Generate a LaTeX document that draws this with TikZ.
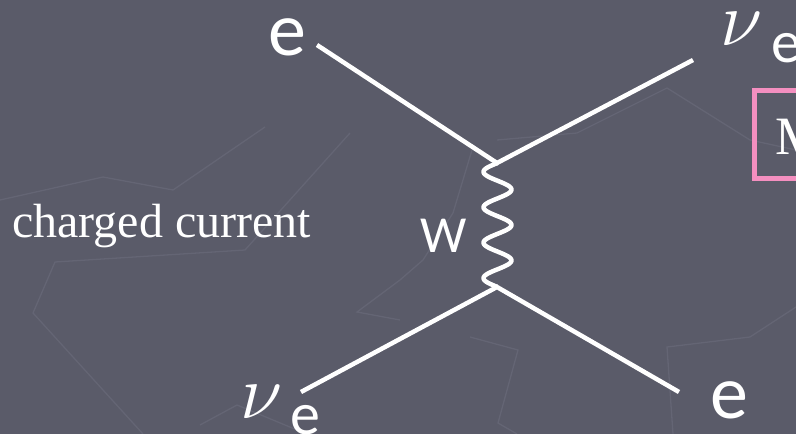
\RequirePackage{fix-cm}
\documentclass[tikz,border=0pt]{standalone}
\usepackage{fontspec}
\setmainfont{Liberation Serif}
\newfontfamily\lblfont{Carlito}
\definecolor{bgcol}{HTML}{5A5B69}
\definecolor{texcol}{HTML}{646574}
\definecolor{pinkcol}{HTML}{F48FC0}
\begin{document}
\begin{tikzpicture}[x=1pt,y=-1pt,
  fermion/.style={draw=white,line width=4.5pt},
  boson/.style={draw=white,line width=4.5pt,line join=round},
  texline/.style={draw=texcol,line width=1.3pt},
  lbl/.style={text=white,inner sep=0pt,anchor=base,text height=38pt,text depth=0pt,font=\lblfont\fontsize{76}{76}\selectfont},
  sublbl/.style={text=white,inner sep=0pt,anchor=base,text height=29pt,text depth=0pt,font=\lblfont\fontsize{60}{60}\selectfont},
  nulbl/.style={text=white,inner sep=0pt,anchor=base,text height=37pt,text depth=0pt,font=\fontsize{77}{77}\selectfont},
  wlbl/.style={text=white,inner sep=0pt,anchor=base,text height=35pt,text depth=0pt,font=\lblfont\fontsize{52}{52}\selectfont},
  serlbl/.style={text=white,inner sep=0pt,anchor=base west,font=\fontsize{48}{48}\selectfont}]
\useasboundingbox (0,0) rectangle (796,434);
\clip (0,0) rectangle (796,434);
\fill[bgcol] (0,0) rectangle (796,434);
% faint background texture
\draw[texline] (0,200) -- (103,177) -- (173,190) -- (265,127);
\draw[texline] (350,133) -- (245,250) -- (55,262) -- (33,313) -- (143,434);
\draw[texline] (400,280) -- (357,312) -- (400,320);
\draw[texline] (200,425) -- (237,405) -- (297,430);
\draw[texline] (472,150) -- (453,213) -- (423,260) -- (400,280);
\draw[texline] (497,140) -- (577,133) -- (667,88) -- (750,140) -- (796,150);
\draw[texline] (470,337) -- (518,350) -- (498,423) -- (517,434);
\draw[texline] (673,434) -- (667,347) -- (750,337) -- (796,307);
% vertices
\coordinate (vt) at (497,163);
\coordinate (vb) at (497,287);
\coordinate (eTL) at (317,45);
\coordinate (nuTR) at (693,60);
\coordinate (nuBL) at (301,392);
\coordinate (eBR) at (679,392);
\draw[fermion] (eTL) -- (vt) -- (nuTR);
\draw[fermion] (nuBL) -- (vb) -- (eBR);
\draw[boson] plot[smooth,samples=120,domain=0:1] ({497.5-14*sin(7*180*\x)},{163+124*\x});
% labels
\node[lbl] (le1) at (287.5,55) {e};
\node[lbl] (le2) at (729,418) {e};
\node[nulbl] (nu1) at (741.5,45) {$\nu$};
\node[sublbl] (ne1) at (786,62) {e};
\node[nulbl] (nu2) at (261.5,418) {$\nu$};
\node[sublbl] (ne2) at (305,434) {e};
\node[wlbl] (W) at (443.5,252) {W};
\node[serlbl] (cc) at (12,237) {charged current};
% pink box
\draw[pinkcol,line width=5pt] (754.5,90) rectangle (840,178.5);
\node[serlbl,font=\fontsize{54}{54}\selectfont] (M) at (775,154) {M};
\end{tikzpicture}
\end{document}
